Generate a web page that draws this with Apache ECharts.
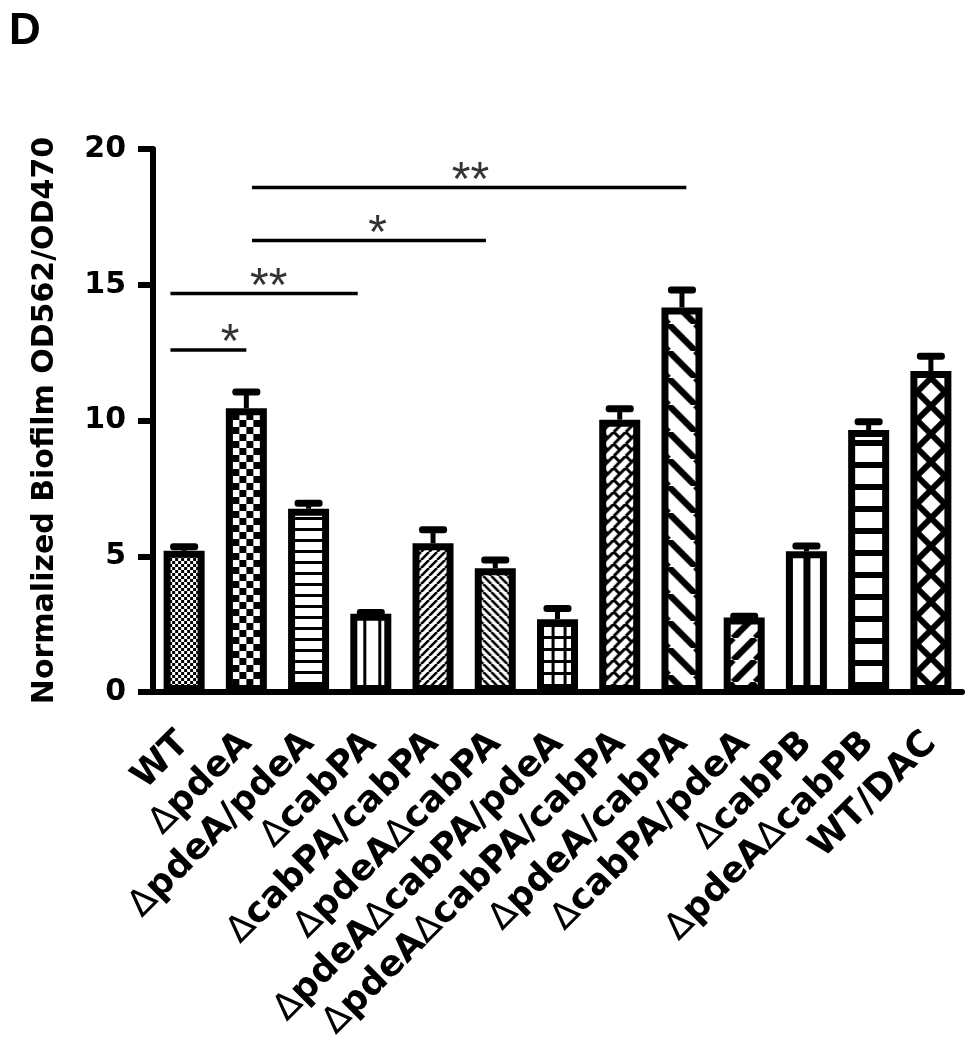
<!DOCTYPE html>
<html><head><meta charset="utf-8">
<script src="https://cdn.jsdelivr.net/npm/echarts@6/dist/echarts.min.js"></script>
<style>html,body{margin:0;padding:0;background:#fff}#c{width:972px;height:1050px}</style>
</head><body><div id="c"></div>
<script>
// ---- data ----
const categories = ['WT','ΔpdeA','ΔpdeA/pdeA','ΔcabPA','ΔcabPA/cabPA','ΔpdeAΔcabPA','ΔpdeAΔcabPA/pdeA','ΔpdeAΔcabPA/cabPA','ΔpdeA/cabPA','ΔcabPA/pdeA','ΔcabPB','ΔpdeAΔcabPB','WT/DAC'];
const means  = [5.2, 10.45, 6.75, 2.88, 5.48, 4.56, 2.68, 10.03, 14.16, 2.74, 5.18, 9.65, 11.82];
const errors = [0.15, 0.6, 0.2, 0.05, 0.5, 0.3, 0.4, 0.4, 0.65, 0.05, 0.2, 0.3, 0.55];
const yTicks = [0, 5, 10, 15, 20];
const yTitle = 'Normalized Biofilm OD562/OD470';
// significance brackets (positions in category-index units)
const sigStart = [-0.22, -0.22, 1.09, 1.09];
const sigEnd   = [1.0, 2.79, 4.85, 8.07];
const sigLevel = [12.6, 14.68, 16.63, 18.58];
const sigMarks = ['*', '**', '*', '**'];
const sigMarkX = [0.74, 1.36, 3.11, 4.6];

// ---- patterns (style only) ----
const patternTypes = ['checkS','checkL','hThin','vThin','dUp','dDown','grid','brick','dDownW','dUpW','vThick','hThick','cross'];
function makeTile(type){
  const specs = {checkS:6,checkL:14,hThin:11,vThin:15,dUp:8,dDown:8,grid:12,brick:12,dDownW:27,dUpW:22,vThick:22,hThick:22,cross:28};
  const s = specs[type];
  const c = document.createElement('canvas'); c.width = s; c.height = s;
  const g = c.getContext('2d');
  g.fillStyle = '#fff'; g.fillRect(0,0,s,s);
  g.fillStyle = '#000'; g.strokeStyle = '#000';
  const diag = (dir, w) => { g.lineWidth = w; g.beginPath();
    for (let k=-1;k<=1;k++){ if(dir>0){ g.moveTo(k*s, s); g.lineTo(k*s+s, 0);} else { g.moveTo(k*s,0); g.lineTo(k*s+s,s);} }
    g.stroke(); };
  switch(type){
    case 'checkS': g.fillRect(0,0,3,3); g.fillRect(3,3,3,3); break;
    case 'checkL': g.fillRect(0,0,7,7); g.fillRect(7,7,7,7); break;
    case 'hThin': g.fillRect(0,0,s,3); break;
    case 'vThin': g.fillRect(0,0,3,s); break;
    case 'dUp': diag(1,2.6); break;
    case 'dDown': diag(-1,2.6); break;
    case 'grid': g.fillRect(0,0,s,3); g.fillRect(0,0,3,s); break;
    case 'brick': diag(1,3); g.lineWidth=3; g.beginPath(); g.moveTo(0,0); g.lineTo(6,6); g.stroke(); break;
    case 'dDownW': diag(-1,6.5); break;
    case 'dUpW': diag(1,6.5); break;
    case 'vThick': g.fillRect(8,0,7,s); break;
    case 'hThick': g.fillRect(0,0,s,6); break;
    case 'cross': diag(1,6); diag(-1,6); break;
  }
  return {canvas:c, size:s};
}
const tiles = patternTypes.map(makeTile);

const chart = echarts.init(document.getElementById('c'), null, {renderer:'canvas'});
const FONT = 'DejaVu Sans';
const LFS = 36;

function barData(offsets){
  return means.map((v,i)=>({
    value: v,
    itemStyle: {color: {image: tiles[i].canvas, repeat:'repeat', x: offsets ? offsets[i] : 0, y: 0}}
  }));
}

const option = {
  backgroundColor:'#fff',
  animation:false,
  graphic:[{type:'text', left:9, top:10, style:{text:'D', font:'bold 44px "Liberation Sans"', fill:'#000'}}],
  grid:{left:153, right:10, top:149, bottom:358, containLabel:false},
  xAxis:[{
    type:'category', data:categories, boundaryGap:true,
    axisLine:{lineStyle:{color:'#000', width:6}},
    axisTick:{alignWithLabel:true, length:18, lineStyle:{color:'#000', width:5}},
    axisLabel:{interval:0, rotate:45, margin:46, color:'#000', fontFamily:FONT, fontWeight:'bold', fontSize:LFS,
      formatter: v => v.split('Δ').map((p,k)=> (k>0?'{d|Δ}':'') + (p?'{b|'+p+'}':'')).join(''),
      rich:{d:{fontFamily:FONT, fontWeight:'normal', fontSize:LFS, color:'#000'}, b:{fontFamily:FONT, fontWeight:'bold', fontSize:LFS, color:'#000'}}},
    splitLine:{show:false}
  },{
    type:'value', min:-0.5, max:12.5, show:false
  }],
  yAxis:{
    type:'value', min:yTicks[0], max:yTicks[yTicks.length-1], interval:5,
    name:yTitle, nameLocation:'middle', nameGap:93,
    nameTextStyle:{fontFamily:FONT, fontWeight:'bold', fontSize:30, color:'#000'},
    axisLine:{show:true, onZero:false, lineStyle:{color:'#000', width:6}},
    axisTick:{show:true, length:15, lineStyle:{color:'#000', width:6}},
    axisLabel:{margin:27, color:'#000', fontFamily:FONT, fontWeight:'bold', fontSize:30},
    splitLine:{show:false}
  },
  series:[
    {type:'bar', name:'mean', xAxisIndex:0, barWidth:41, data:barData(null),
     itemStyle:{borderColor:'#000', borderWidth:7}, z:2},
    {type:'custom', name:'err', xAxisIndex:0, z:3,
     data: means.map((v,i)=>[i, v+errors[i], v]),
     renderItem:(params, api)=>{
       const i = api.value(0);
       const top = api.coord([i, api.value(1)]);
       const base = api.coord([i, api.value(2)]);
       return {type:'group', children:[
         {type:'rect', shape:{x:top[0]-2.5, y:top[1], width:5, height:base[1]-top[1]}, style:{fill:'#000'}},
         {type:'rect', shape:{x:top[0]-14, y:top[1]-3.5, width:28, height:7, r:3}, style:{fill:'#000'}}
       ]};
     }},
    ...sigLevel.map((lv,k)=>({
      type:'line', xAxisIndex:1, symbol:'none', silent:true, z:4,
      data:[[sigStart[k], lv],[sigEnd[k], lv]],
      lineStyle:{color:'#000', width:3.5}
    })),
    {type:'scatter', xAxisIndex:1, symbolSize:0, z:5, silent:true,
     data: sigMarks.map((m,k)=>({value:[sigMarkX[k], sigLevel[k]], mark:m})),
     label:{show:true, position:'inside', offset:[0,-6], formatter:p=>p.data.mark,
       fontFamily:'Liberation Sans', fontSize:48, color:'#000'}}
  ]
};
chart.setOption(option);
// align pattern tiles to each bar's centre using the axis scale
const offs = categories.map((c,i)=>{
  const px = chart.convertToPixel({xAxisIndex:0}, i);
  return px - tiles[i].size/2;
});
chart.setOption({series:[{data:barData(offs)}]});
</script></body></html>
